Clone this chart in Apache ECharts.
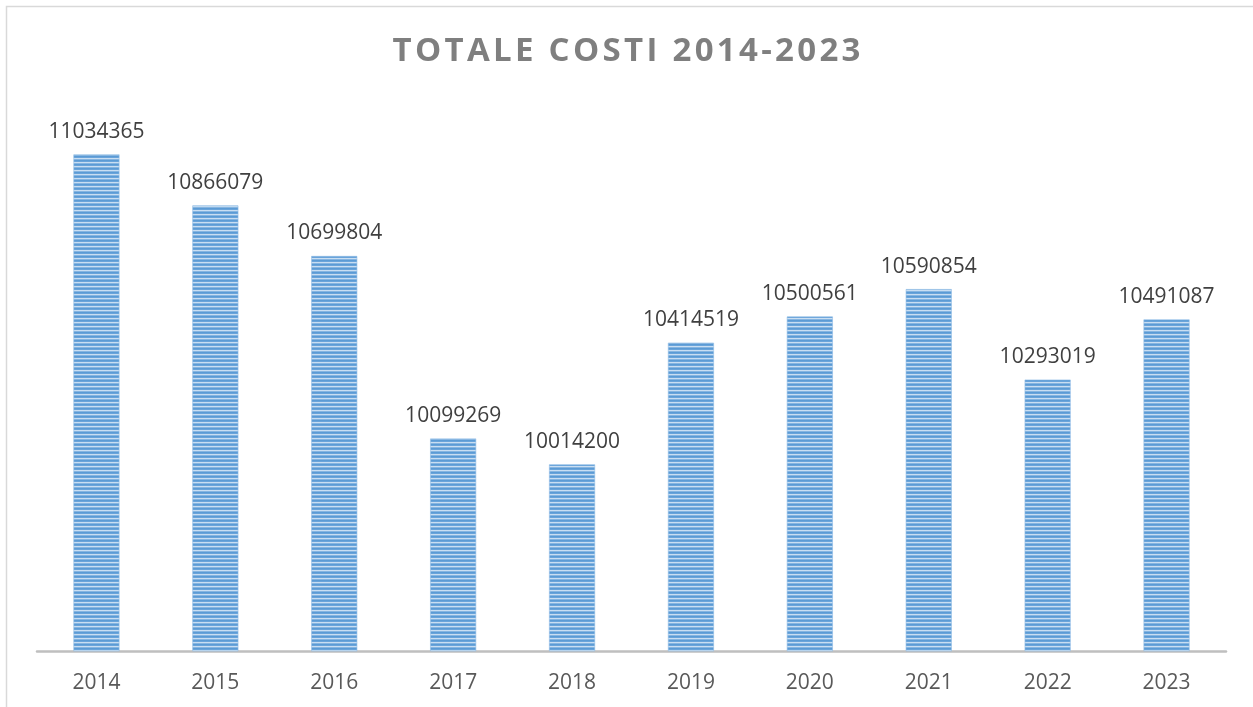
<!DOCTYPE html>
<html>
<head>
<meta charset="utf-8">
<script src="https://cdn.jsdelivr.net/npm/echarts@6/dist/echarts.min.js"></script>
<style>
html,body{margin:0;padding:0;background:#fff;}
#chart{width:1253px;height:707px;}
</style>
</head>
<body>
<div id="chart"></div>
<script>
const titleText = 'TOTALE COSTI 2014-2023';
const years = ['2014','2015','2016','2017','2018','2019','2020','2021','2022','2023'];
const costs = [11034365, 10866079, 10699804, 10099269, 10014200, 10414519, 10500561, 10590854, 10293019, 10491087];

// striped fill pattern
const pat = document.createElement('canvas');
pat.width = 4; pat.height = 4;
const pctx = pat.getContext('2d');
const rows = ['#5B9BD5', '#6AA4DA', '#C9DEF2', '#86B5E1'];
rows.forEach((c, i) => { pctx.fillStyle = c; pctx.fillRect(0, i, 4, 1); });

const chart = echarts.init(document.getElementById('chart'), null, {renderer: 'canvas'});
chart.setOption({
  backgroundColor: '#fff',
  animation: false,
  title: {
    text: titleText.split('').join('\u200A'),
    left: 'center',
    top: 30,
    textStyle: {
      fontFamily: 'Open Sans',
      fontWeight: 'bold',
      fontSize: 33,
      color: '#7F7F7F'
    }
  },
  graphic: [{
    type: 'rect',
    shape: {x: 6.5, y: 6.5, width: 1300, height: 800},
    style: {fill: 'none', stroke: '#D9D9D9', lineWidth: 1.5},
    silent: true,
    z: -1
  }],
  grid: {left: 37, right: 27, top: 104, bottom: 56},
  xAxis: {
    type: 'category',
    data: years,
    axisLine: {show: true, lineStyle: {color: '#BFBFBF', width: 2.5}},
    axisTick: {show: false},
    axisLabel: {
      color: '#595959',
      fontFamily: 'Open Sans',
      fontSize: 21,
      margin: 22
    }
  },
  yAxis: {
    type: 'value',
    min: 9400000,
    max: 11200000,
    interval: 200000,
    show: false,
    splitLine: {show: false}
  },
  series: [{
    type: 'bar',
    data: costs,
    barWidth: 46,
    itemStyle: {
      color: {image: pat, repeat: 'repeat'},
      borderColor: '#8FBCE6',
      borderWidth: 0.6
    },
    label: {
      show: true,
      position: 'top',
      distance: 12,
      color: '#404040',
      fontFamily: 'Open Sans',
      fontSize: 21
    }
  }]
});
</script>
</body>
</html>
